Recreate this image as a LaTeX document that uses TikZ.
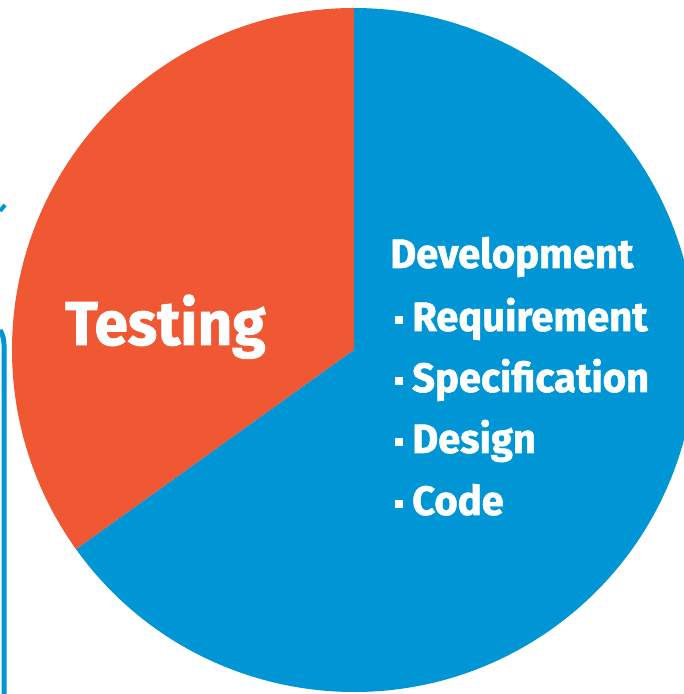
\documentclass[tikz,border=0pt]{standalone}
\usepackage{fontspec}
\setmainfont[BoldFeatures={FakeBold=1.4, FakeStretch=0.975}]{Fira Sans}
\usetikzlibrary{positioning}

\definecolor{pieRed}{RGB}{240,88,52}
\definecolor{pieBlue}{RGB}{0,150,214}

\begin{document}
\begin{tikzpicture}[x=1pt,y=1pt]

\tikzset{
  label/.style={anchor=base west, inner sep=0pt, text=white, font=\bfseries\fontsize{41}{41}\selectfont},
  bullet/.style={fill=white, minimum size=8pt, inner sep=0pt, anchor=center}
}

\useasboundingbox (0,0) rectangle (684,694);

\begin{scope}
\clip (0,0) rectangle (684,694);

% pie
\coordinate (c) at (354,344);
\fill[pieRed] (c) -- ++(90:342) arc[start angle=90, end angle=215.65, radius=342] -- cycle;
\fill[pieBlue] (c) -- ++(215.65:342) arc[start angle=215.65, end angle=450, radius=342] -- cycle;

% left frame
\draw[pieBlue, line width=5pt] (0,364) to[out=-60,in=90] (4,339) -- (4,0);
\draw[pieBlue, line width=4pt] (0,483) -- (5,489);
\end{scope}

% testing
\node[label, font=\bfseries\fontsize{62}{62}\selectfont] (testing) at (65,349) {Testing};

% development
\node[label] (dev) at (390,426) {Development};
\node[label] (req) at (412,363) {Requirement};
\node[label] (spec) at (412,302) {Specification};
\node[label] (design) at (412,241) {Design};
\node[label] (code) at (412,179) {Code};

\node[bullet] (b1) at (399,374) {};
\node[bullet] (b2) at (399,313) {};
\node[bullet] (b3) at (399,252) {};
\node[bullet] (b4) at (399,190) {};

\end{tikzpicture}
\end{document}
